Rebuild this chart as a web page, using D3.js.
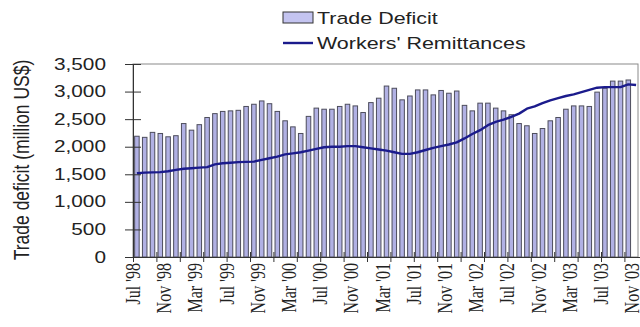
<!DOCTYPE html>
<html>
<head>
<meta charset="utf-8">
<script src="https://cdn.jsdelivr.net/npm/d3@7"></script>
<style>
  html, body { margin: 0; padding: 0; background: #fff; }
  svg { display: block; }
</style>
</head>
<body>
<svg id="chart" width="640" height="327"></svg>
<script>
// Monthly series, Jul 1998 – Nov 2003 (million US$)
const months = d3.timeMonth.range(new Date(1998, 6, 1), new Date(2003, 11, 1));

const tradeDeficit = [
  2190, 2170, 2260, 2240, 2180, 2200, 2420, 2300, 2400, 2530, 2600, 2640,
  2650, 2660, 2730, 2770, 2830, 2780, 2640, 2470, 2360, 2240, 2550, 2700,
  2680, 2680, 2730, 2770, 2740, 2620, 2800, 2880, 3100, 3060, 2850, 2920,
  3030, 3030, 2940, 3020, 2970, 3010, 2750, 2650, 2790, 2790, 2700, 2650,
  2580, 2420, 2380, 2240, 2330, 2470, 2530, 2680, 2740, 2740, 2730, 2990,
  3060, 3190, 3190, 3210, null
];

const remittances = [
  1520, 1530, 1535, 1540, 1555, 1580, 1600, 1610, 1620, 1630, 1680, 1700,
  1710, 1720, 1725, 1730, 1760, 1790, 1820, 1860, 1880, 1900, 1930, 1960,
  1990, 2000, 2000, 2010, 2010, 1990, 1970, 1950, 1930, 1900, 1870, 1870,
  1900, 1940, 1980, 2010, 2040, 2080, 2150, 2230, 2300, 2390, 2450, 2490,
  2540, 2600, 2690, 2730, 2790, 2840, 2880, 2920, 2950, 2990, 3030, 3070,
  3080, 3080, 3080, 3130, 3120
];

const tickLabels = [
  "Jul '98", "Nov '98", "Mar '99", "Jul '99", "Nov '99", "Mar '00",
  "Jul '00", "Nov '00", "Mar '01", "Jul '01", "Nov '01", "Mar '02",
  "Jul '02", "Nov '02", "Mar '03", "Jul '03", "Nov '03"
];
const yTicks = [0, 500, 1000, 1500, 2000, 2500, 3000, 3500];

const svg = d3.select("#chart");
const plotLeft = 133, plotRight = 640, plotTop = 64, plotBottom = 257;
const widen = 1.3; // horizontal stretch applied to all text

const idx = d3.range(months.length);
const x = d3.scaleBand(idx, [plotLeft, plotRight]).paddingInner(0.42).paddingOuter(0.21);
const xEdge = d3.scaleLinear([0, months.length], [plotLeft, plotRight]);
const y = d3.scaleLinear([0, 3500], [plotBottom, plotTop]);

const sans = "'Liberation Sans', Arial, sans-serif";
const serif = "'Liberation Serif', 'Times New Roman', serif";

// plot frame
svg.append("rect")
  .attr("x", plotLeft).attr("y", plotTop)
  .attr("width", 638 - plotLeft).attr("height", plotBottom - plotTop)
  .attr("fill", "none").attr("stroke", "#8a8a8a").attr("stroke-width", 1);

// trade deficit bars
svg.append("g")
  .selectAll("rect")
  .data(idx.filter(i => tradeDeficit[i] != null))
  .join("rect")
  .attr("x", i => x(i))
  .attr("y", i => y(tradeDeficit[i]))
  .attr("width", x.bandwidth())
  .attr("height", i => y(0) - y(tradeDeficit[i]))
  .attr("fill", "#b1b1e4")
  .attr("stroke", "#4d4d5c")
  .attr("stroke-width", 1);

// workers' remittances line
const line = d3.line()
  .x(i => x(i) + x.bandwidth() / 2)
  .y(i => y(remittances[i]))
  .curve(d3.curveLinear);
svg.append("path")
  .datum(idx)
  .attr("d", line)
  .attr("fill", "none")
  .attr("stroke", "#1b1b8c")
  .attr("stroke-width", 2.4)
  .attr("stroke-linejoin", "round");

// y axis
const yAxis = svg.append("g")
  .attr("transform", `translate(${plotLeft},0)`)
  .call(d3.axisLeft(y).tickValues(yTicks).tickSize(8).tickPadding(0).tickFormat(d3.format(",")));
yAxis.select(".domain").attr("stroke", "#333");
yAxis.selectAll(".tick line").attr("x1", 8).attr("stroke", "#333");
yAxis.selectAll(".tick text")
  .attr("x", null)
  .attr("transform", `translate(-27,0) scale(${widen},1)`)
  .attr("font-family", sans).attr("font-size", 16)
  .attr("fill", "#222");

// x axis
const xAxis = svg.append("g")
  .attr("transform", `translate(0,${plotBottom})`)
  .call(d3.axisBottom(xEdge).tickValues(d3.range(0, months.length + 1, 3)).tickSize(5).tickFormat(""));
xAxis.select(".domain").attr("stroke", "#333");
xAxis.selectAll(".tick line").attr("y1", -5).attr("stroke", "#333");

// month labels, one every four months
svg.append("g")
  .selectAll("text")
  .data(tickLabels)
  .join("text")
  .attr("transform", (d, k) => `translate(${x(k * 4) + x.bandwidth() / 2 + 3},263) scale(${widen},1) rotate(-90)`)
  .attr("text-anchor", "end")
  .attr("font-family", serif)
  .attr("font-size", 16)
  .attr("fill", "#222")
  .text(d => d);

// y axis title
svg.append("text")
  .attr("transform", `translate(29,160) scale(${widen},1) rotate(-90)`)
  .attr("text-anchor", "middle")
  .attr("font-family", sans)
  .attr("font-size", 17.5)
  .attr("fill", "#222")
  .text("Trade deficit (million US$)");

// legend
const legend = svg.append("g").attr("font-family", sans).attr("font-size", 16.5).attr("fill", "#222");
legend.append("rect")
  .attr("x", 283).attr("y", 12).attr("width", 30).attr("height", 11)
  .attr("fill", "#c4c4f0").attr("stroke", "#333").attr("stroke-width", 1);
legend.append("text").attr("transform", `translate(317,24) scale(${widen},1)`).text("Trade Deficit");
legend.append("line")
  .attr("x1", 283).attr("x2", 313).attr("y1", 43).attr("y2", 43)
  .attr("stroke", "#1b1b8c").attr("stroke-width", 2.4);
legend.append("text").attr("transform", `translate(317,49) scale(${widen},1)`).text("Workers' Remittances");
</script>
</body>
</html>
